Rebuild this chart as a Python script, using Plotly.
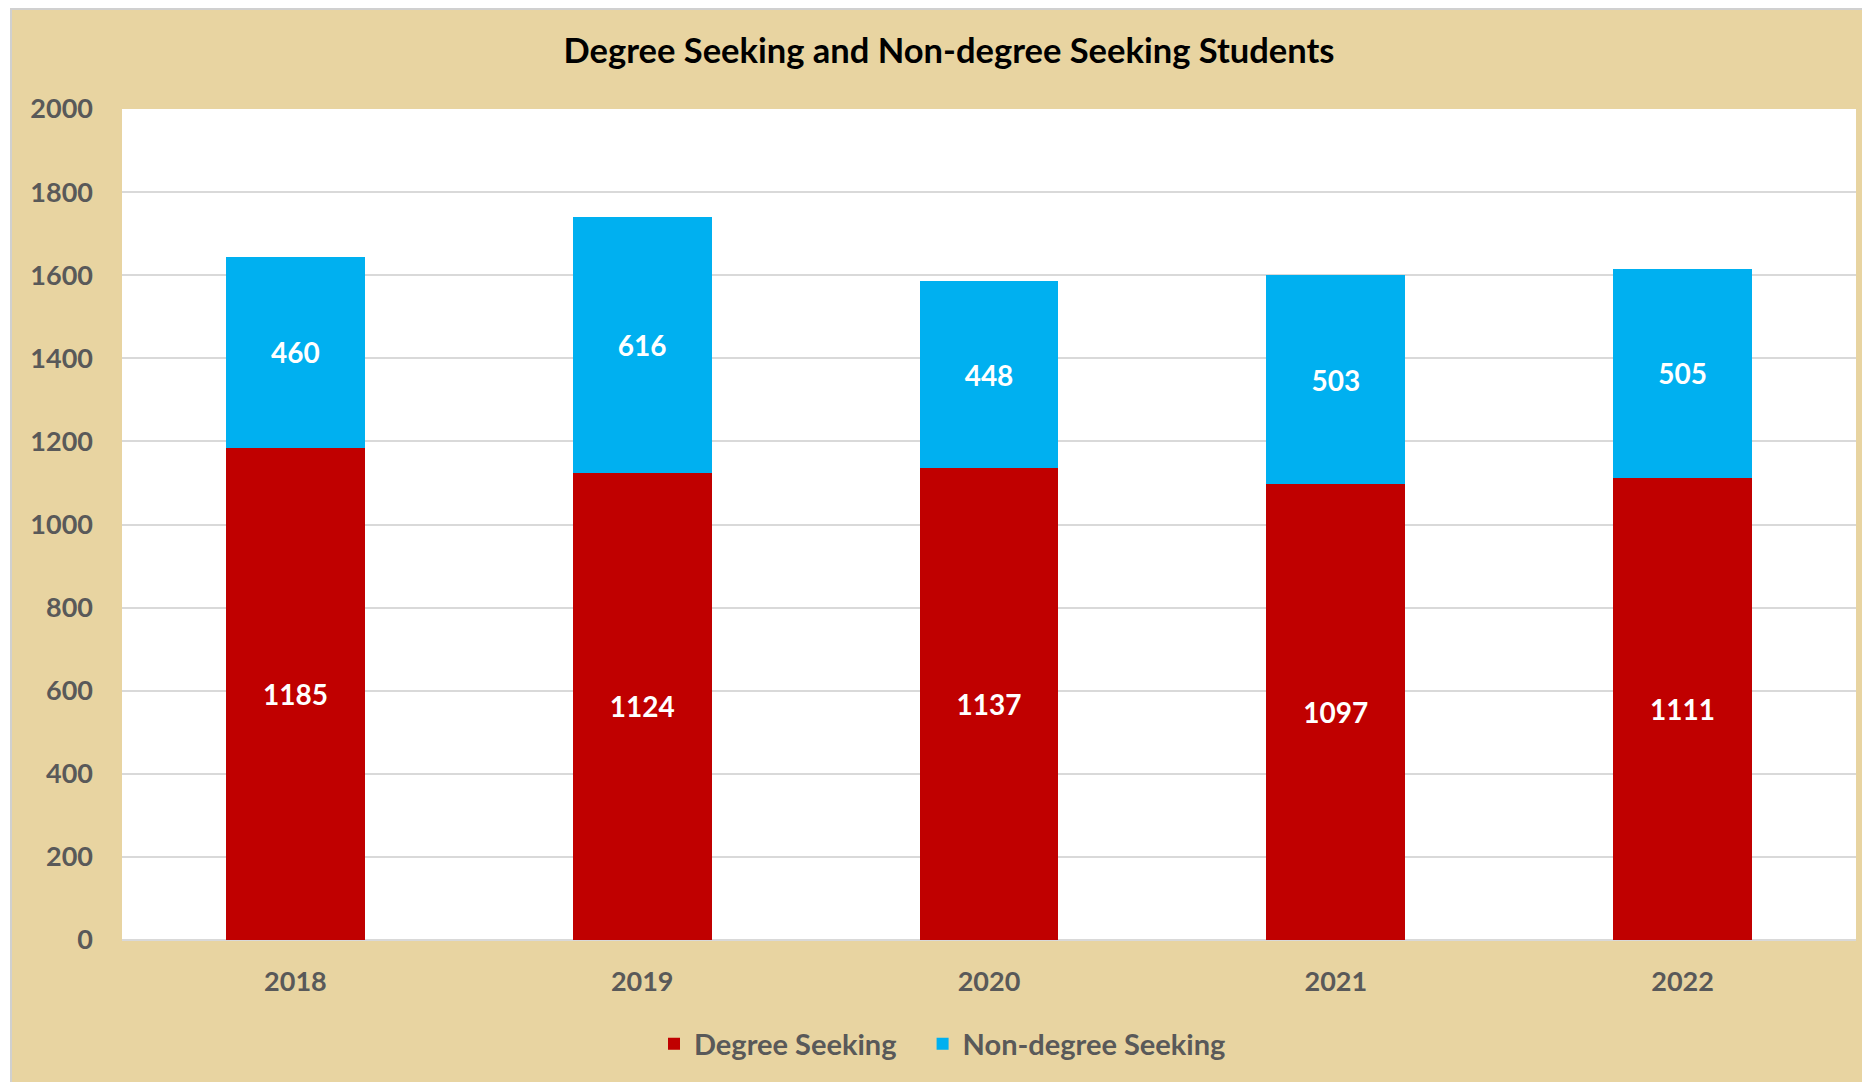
import plotly.graph_objects as go

years = ["2018", "2019", "2020", "2021", "2022"]
degree = [1185, 1124, 1137, 1097, 1111]
non_degree = [460, 616, 448, 503, 505]

# page has an 8px body margin, so the figure starts at (8, 8)
W, H = 1862, 1074
ml, mr, mt, mb = 114, 14, 101, 142
pw = W - ml - mr
ph = H - mt - mb

bg = "#E8D4A1"
grey = "#595959"
fnt = "Lato, Open Sans, sans-serif"

fig = go.Figure()
fig.add_trace(go.Bar(x=years, y=degree, name="Degree Seeking\u00a0\u00a0\u00a0",
                     marker=dict(color="#C00000", line=dict(width=0)),
                     text=degree, textposition="inside", insidetextanchor="middle",
                     textangle=0,
                     textfont=dict(color="white", size=28, family=fnt, weight="bold")))
fig.add_trace(go.Bar(x=years, y=non_degree, name="Non-degree Seeking",
                     marker=dict(color="#00B0F0", line=dict(width=0)),
                     text=non_degree, textposition="inside", insidetextanchor="middle",
                     textangle=0,
                     textfont=dict(color="white", size=28, family=fnt, weight="bold")))

# thin white strip + grey border on the left, grey border on top
x_edge = -(ml - 3) / pw
fig.add_shape(type="rect", xref="paper", yref="paper", x0=-0.2, x1=x_edge, y0=-0.5, y1=1.5,
              fillcolor="white", line=dict(width=0), layer="below")
fig.add_shape(type="line", xref="paper", yref="paper", x0=x_edge, x1=x_edge, y0=-0.5, y1=1.5,
              line=dict(color="#D0D0D0", width=2))
fig.add_shape(type="line", xref="paper", yref="paper", x0=x_edge, x1=1.2,
              y0=1 + (mt - 1) / ph, y1=1 + (mt - 1) / ph,
              line=dict(color="#D0D0D0", width=2))

fig.update_layout(
    width=W, height=H,
    margin=dict(l=ml, r=mr, t=mt, b=mb),
    paper_bgcolor=bg, plot_bgcolor="white",
    barmode="stack", bargap=0.6,
    title=dict(text="<b>Degree Seeking and Non-degree Seeking Students</b>",
               x=941 / W, xanchor="center", y=1 - 43 / H, yanchor="middle",
               font=dict(family=fnt, size=34.5, color="black")),
    font=dict(family=fnt, color=grey),
    legend=dict(orientation="h", traceorder="normal", x=(646 - ml) / pw, xanchor="left",
                y=-(1036 - (H - mb)) / ph, yanchor="middle",
                font=dict(size=29, color=grey, family=fnt, weight="bold"),
                bgcolor="rgba(0,0,0,0)"),
    xaxis=dict(showgrid=False, showline=False, ticks="",
               tickfont=dict(size=27, color=grey, family=fnt, weight="bold"),
               ticklabelstandoff=23),
    yaxis=dict(range=[0, 2000], dtick=200, showgrid=True, gridcolor="#D9D9D9",
               gridwidth=1.5, zeroline=True, zerolinecolor="#D9D9D9", zerolinewidth=1.5,
               showline=False, ticks="",
               tickfont=dict(size=27, color=grey, family=fnt, weight="bold"),
               ticklabelstandoff=28),
    showlegend=True,
)

fig.write_html("out.html")
